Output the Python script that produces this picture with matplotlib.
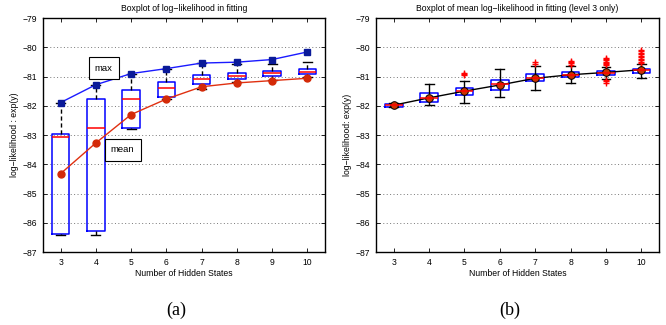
import matplotlib
matplotlib.use('Agg')
import matplotlib.pyplot as plt

# Dados
states = [3, 4, 5, 6, 7, 8, 9, 10]

# (a) log-likelihood
max_ll = [-81.89, -81.28, -80.90, -80.73, -80.54, -80.51, -80.42, -80.16]
mean_ll = [-84.32, -83.27, -82.30, -81.77, -81.35, -81.22, -81.14, -81.06]
a_q1 = [-86.37, -86.28, -82.76, -81.69, -81.26, -81.09, -80.98, -80.91]
a_med = [-83.08, -82.76, -81.76, -81.40, -81.10, -80.97, -80.89, -80.83]
a_q3 = [-82.97, -81.77, -81.46, -81.20, -80.94, -80.88, -80.81, -80.75]
a_lo = [-86.43, -86.43, -82.80, -81.78, -81.43, -81.20, -81.12, -81.02]
a_hi = [-81.89, -81.28, -80.90, -80.73, -80.55, -80.58, -80.57, -80.52]

# (b) mean log-likelihood (level 3)
mean_b = [-81.98, -81.73, -81.50, -81.29, -81.06, -80.94, -80.86, -80.77]
b_q1 = [-82.03, -81.87, -81.63, -81.46, -81.17, -81.03, -80.95, -80.88]
b_med = [-81.99, -81.74, -81.50, -81.27, -81.06, -80.94, -80.87, -80.79]
b_q3 = [-81.94, -81.58, -81.38, -81.12, -80.93, -80.86, -80.81, -80.74]
b_lo = [-82.05, -81.98, -81.91, -81.70, -81.45, -81.21, -81.08, -81.06]
b_hi = [-81.92, -81.27, -81.15, -80.74, -80.63, -80.64, -80.66, -80.58]
b_fliers = [
    [],
    [],
    [-80.87, -80.91, -80.95],
    [],
    [-80.52, -80.56],
    [-80.47, -80.51, -80.55, -80.59],
    [-80.37, -80.41, -80.45, -80.49, -80.53, -80.58, -80.62, -81.11, -81.16, -81.21],
    [-80.09, -80.14, -80.19, -80.24, -80.29, -80.34, -80.39, -80.44, -80.49, -80.54],
]

yticks = [-79, -80, -81, -82, -83, -84, -85, -86, -87]

FS = 6.2
plt.rcParams['font.family'] = ['Liberation Sans', 'DejaVu Sans']
plt.rcParams['font.size'] = FS


def montar_stats(q1, med, q3, lo, hi, fliers=None):
    stats = []
    for i in range(len(q1)):
        stats.append({
            'q1': q1[i], 'med': med[i], 'q3': q3[i],
            'whislo': lo[i], 'whishi': hi[i],
            'fliers': fliers[i] if fliers else [],
        })
    return stats


def estilo_eixo(ax, title):
    ax.set_xlim(2.5, 10.5)
    ax.set_ylim(-87, -79)
    ax.set_xticks(states)
    ax.set_xticklabels([str(s) for s in states])
    ax.set_yticks(yticks)
    ax.yaxis.grid(True, linestyle=(0, (1, 2.5)), color='#777777', lw=0.7)
    ax.xaxis.grid(False)
    ax.set_axisbelow(True)
    ax.tick_params(direction='in', length=3, width=0.6, top=True, right=True, labelsize=FS, pad=4)
    for s in ax.spines.values():
        s.set_linewidth(1.0)
    ax.set_title(title, fontsize=FS, pad=5)
    ax.set_xlabel('Number of Hidden States', fontsize=FS, labelpad=2)


fig = plt.figure(figsize=(6.66, 3.25), dpi=100)
ax1 = fig.add_axes([0.0646, 0.2246, 0.4234, 0.72])
ax2 = fig.add_axes([0.5646, 0.2246, 0.425, 0.72])

# (a)
ax1.bxp(montar_stats(a_q1, a_med, a_q3, a_lo, a_hi), positions=states, widths=0.5,
        showfliers=False,
        boxprops=dict(color='#0000ff', lw=1.1),
        medianprops=dict(color='#ff0000', lw=1.1),
        whiskerprops=dict(color='black', lw=1.0, linestyle=(0, (3, 2))),
        capprops=dict(color='black', lw=1.0))
ax1.plot(states, max_ll, '-s', color='#1a1aff', mfc='#0a1a99', mec='#0a1a99', ms=4, lw=1.0)
ax1.plot(states, mean_ll, '-o', color='#e03010', mfc='#d42a08', mec='#d42a08', ms=5, lw=1.0)
ax1.text(4.22, -80.71, 'max', ha='center', va='center', fontsize=6.8,
         bbox=dict(boxstyle='square,pad=0.65', fc='white', ec='black', lw=0.8))
ax1.text(4.76, -83.51, 'mean', ha='center', va='center', fontsize=6.8,
         bbox=dict(boxstyle='square,pad=0.65', fc='white', ec='black', lw=0.8))
ax1.set_ylabel('log\u2212likelihood : exp(y)', fontsize=FS, labelpad=3)
estilo_eixo(ax1, 'Boxplot of log\u2212likelihood in fitting')

# (b)
ax2.bxp(montar_stats(b_q1, b_med, b_q3, b_lo, b_hi, b_fliers), positions=states, widths=0.5,
        boxprops=dict(color='#0000ff', lw=1.1),
        medianprops=dict(color='#ff0000', lw=1.1),
        whiskerprops=dict(color='black', lw=1.0),
        capprops=dict(color='black', lw=1.0),
        flierprops=dict(marker='+', markeredgecolor='#ff0000', ms=5, mew=1.0, linestyle='none'))
ax2.plot(states, mean_b, '-o', color='black', mfc='#cc3300', mec='black', ms=5.5, lw=1.0, mew=0.7)
ax2.set_ylabel('log\u2212likelihood: exp(y)', fontsize=FS, labelpad=3)
estilo_eixo(ax2, 'Boxplot of mean log\u2212likelihood in fitting (level 3 only)')

fig.text(0.264, 0.045, '(a)', ha='center', va='center', fontsize=13, family='Liberation Serif')
fig.text(0.766, 0.045, '(b)', ha='center', va='center', fontsize=13, family='Liberation Serif')

fig.savefig('out.png', dpi=100)
